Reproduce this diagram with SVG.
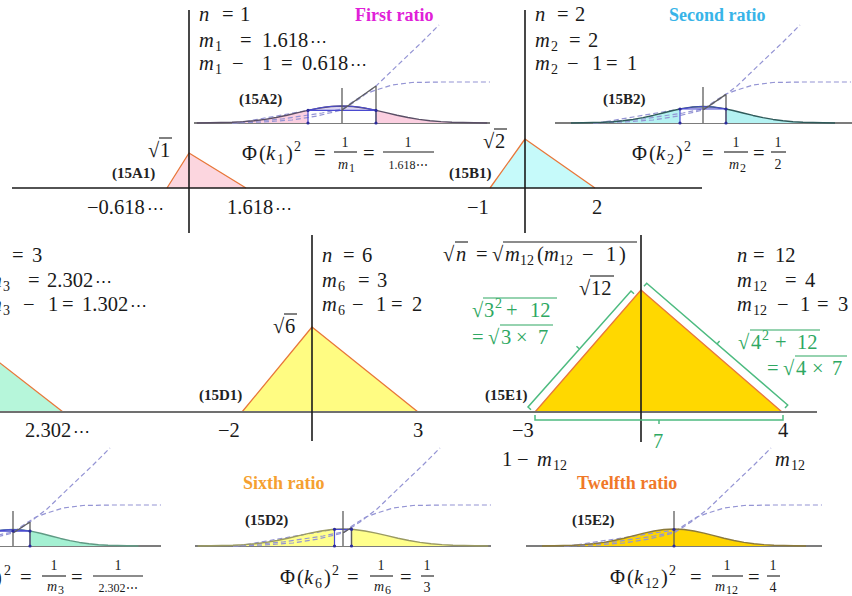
<svg xmlns="http://www.w3.org/2000/svg" width="852" height="596" viewBox="0 0 852 596">
<style>
.m{font-family:"Liberation Serif","DejaVu Serif",serif;font-size:20.5px;fill:#1a1a1a}
.i{font-style:italic}
.s{font-size:14px}
.fr{font-size:14px}
.sm{font-size:12px}
.el{font-size:17px}
.lb{font-family:"Liberation Serif","DejaVu Serif",serif;font-weight:bold;font-size:15px;fill:#222}
.tt{font-family:"Liberation Serif","DejaVu Serif",serif;font-weight:bold;font-size:18px}
.ax{stroke:#1a1a1a;stroke-width:1.6}
.ax2{stroke:#707070;stroke-width:2}
.ed{fill:none;stroke:#e8773a;stroke-width:1.3;stroke-linejoin:round}
.vb{stroke:#1a1a1a;stroke-width:1.1}
.bs{stroke:#7c7c7c;stroke-width:1.8}
.ds{fill:none;stroke:#9494d4;stroke-width:1.2;stroke-dasharray:5 3}
.cv{fill:none;stroke-width:1.4;stroke-linejoin:round}
.bl{fill:none;stroke:#4a4ad0;stroke-width:1.2}
.gy{fill:none;stroke:#5e5e5e;stroke-width:1.3}
.dt{fill:#2a2a9a}
.gt{fill:#2ea862}
.gb{fill:none;stroke:#4dbb80;stroke-width:1.5}
.gv{stroke:#2ea862;stroke-width:1.1}
</style>
<defs>
<path id="g" vector-effect="non-scaling-stroke" d="M-3.3,-0.004 L-3,-0.011 L-2.5,-0.044 L-2.25,-0.080 L-2,-0.135 L-1.75,-0.216 L-1.5,-0.325 L-1.25,-0.458 L-1,-0.607 L-0.75,-0.755 L-0.5,-0.883 L-0.25,-0.969 L0,-1 L0.25,-0.969 L0.5,-0.883 L0.75,-0.755 L1,-0.607 L1.25,-0.458 L1.5,-0.325 L1.75,-0.216 L2,-0.135 L2.25,-0.080 L2.5,-0.044 L3,-0.011 L3.3,-0.004"/>
<path id="gf" d="M-3.3,0 L-3.3,-0.004 L-3,-0.011 L-2.5,-0.044 L-2.25,-0.080 L-2,-0.135 L-1.75,-0.216 L-1.5,-0.325 L-1.25,-0.458 L-1,-0.607 L-0.75,-0.755 L-0.5,-0.883 L-0.25,-0.969 L0,-1 L0.25,-0.969 L0.5,-0.883 L0.75,-0.755 L1,-0.607 L1.25,-0.458 L1.5,-0.325 L1.75,-0.216 L2,-0.135 L2.25,-0.080 L2.5,-0.044 L3,-0.011 L3.3,-0.004 L3.3,0 Z"/>
<path id="dsp" d="M-110,0 L-80,-1 L-50,-3 L-25,-7 L0,-13 L17,-24 L34,-37 L60,-62 L80,-81 L97,-98"/>
<path id="dap" d="M-110,0 L-60,-4 L-20,-10 L0,-14 L12,-22 L23,-29 L34,-33 L50,-38 L70,-40.5 L100,-41 L148,-41"/>
</defs>
<rect width="852" height="596" fill="#fff"/>

<g id="triangles">
<polygon points="167,188 189,153 246,188" fill="#fcd6df"/>
<polyline points="167,188 189,153 246,188" class="ed"/>
<polygon points="490,188 525,139 595,188" fill="#c6fafa"/>
<polyline points="490,188 525,139 595,188" class="ed"/>
<polygon points="-30,412 -30,339.7 63,412" fill="#b6f6da"/>
<line x1="-30" y1="339.7" x2="63" y2="412" class="ed"/>
<polygon points="242,412 312,327 418,412" fill="#fffc82"/>
<polyline points="242,412 312,327 418,412" class="ed"/>
<polygon points="535,412 641,290 782,412" fill="#ffd800"/>
<polyline points="535,412 641,290 782,412" class="ed"/>
</g>

<g id="axes">
<line x1="12" y1="188" x2="702" y2="188" class="ax"/>
<line x1="189" y1="10" x2="189" y2="233" class="ax"/>
<line x1="525" y1="10" x2="525" y2="233" class="ax"/>
<line x1="0" y1="412" x2="817" y2="412" class="ax2"/>
<line x1="312" y1="235" x2="312" y2="441" class="ax"/>
<line x1="641" y1="235" x2="641" y2="442" class="ax"/>
</g>

<g id="panel-A">
<text class="m"><tspan class="i" x="199" y="21">n</tspan><tspan x="222" y="21">=</tspan><tspan x="240" y="21">1</tspan></text>
<text class="m"><tspan class="i" x="199" y="47">m</tspan><tspan class="s" x="215" y="51">1</tspan><tspan x="240" y="47">=</tspan><tspan x="262" y="47">1.618</tspan><tspan class="el" dx="2">⋯</tspan></text>
<text class="m"><tspan class="i" x="199" y="70">m</tspan><tspan class="s" x="215" y="74">1</tspan><tspan x="232" y="70">−</tspan><tspan x="262" y="70">1</tspan><tspan x="281" y="70">=</tspan><tspan x="302" y="70">0.618</tspan><tspan class="el" dx="2">⋯</tspan></text>
<text class="m"><tspan x="148" y="157">√</tspan><tspan x="160" y="157">1</tspan></text>
<line x1="159" y1="138" x2="172" y2="138" class="vb"/>
<text class="lb" x="112" y="178">(15A1)</text>
<text class="m" x="87" y="214">−0.618<tspan class="el" dx="2">⋯</tspan></text>
<text class="m" x="227" y="214">1.618<tspan class="el" dx="2">⋯</tspan></text>
<text class="tt" x="355" y="21" fill="#e020d8">First ratio</text>
<text class="lb" x="239" y="104">(15A2)</text>
<text class="m"><tspan x="242" y="160">Φ</tspan><tspan x="259" y="160">(</tspan><tspan class="i" x="266" y="160">k</tspan><tspan class="s" x="277" y="164">1</tspan><tspan x="286" y="160">)</tspan><tspan class="s" x="294" y="151">2</tspan><tspan x="314" y="160">=</tspan><tspan x="363" y="160">=</tspan></text>
<text class="m fr" x="345" y="147" text-anchor="middle">1</text>
<line x1="334" y1="152" x2="357" y2="152" class="vb"/>
<text class="m fr"><tspan class="i" x="338" y="169">m</tspan><tspan class="sm" x="349" y="172">1</tspan></text>
<text class="m fr" x="408" y="147" text-anchor="middle">1</text>
<line x1="383" y1="152" x2="434" y2="152" class="vb"/>
<text class="m sm" x="408" y="169" text-anchor="middle">1.618⋯</text>
</g>

<g id="panel-B">
<text class="m"><tspan class="i" x="535" y="21">n</tspan><tspan x="557" y="21">=</tspan><tspan x="575" y="21">2</tspan></text>
<text class="m"><tspan class="i" x="535" y="47">m</tspan><tspan class="s" x="551" y="51">2</tspan><tspan x="569" y="47">=</tspan><tspan x="588" y="47">2</tspan></text>
<text class="m"><tspan class="i" x="535" y="70">m</tspan><tspan class="s" x="551" y="74">2</tspan><tspan x="567" y="70">−</tspan><tspan x="592" y="70">1</tspan><tspan x="606" y="70">=</tspan><tspan x="627" y="70">1</tspan></text>
<text class="m"><tspan x="483" y="148">√</tspan><tspan x="495" y="148">2</tspan></text>
<line x1="494" y1="129" x2="507" y2="129" class="vb"/>
<text class="lb" x="449" y="178">(15B1)</text>
<text class="m" x="467" y="214">−1</text>
<text class="m" x="592" y="214">2</text>
<text class="tt" x="669" y="21" fill="#38b4e8">Second ratio</text>
<text class="lb" x="603" y="104">(15B2)</text>
<text class="m"><tspan x="632" y="160">Φ</tspan><tspan x="649" y="160">(</tspan><tspan class="i" x="656" y="160">k</tspan><tspan class="s" x="667" y="164">2</tspan><tspan x="676" y="160">)</tspan><tspan class="s" x="684" y="151">2</tspan><tspan x="702" y="160">=</tspan><tspan x="753" y="160">=</tspan></text>
<text class="m fr" x="736" y="147" text-anchor="middle">1</text>
<line x1="724" y1="152" x2="748" y2="152" class="vb"/>
<text class="m fr"><tspan class="i" x="729" y="169">m</tspan><tspan class="sm" x="740" y="172">2</tspan></text>
<text class="m fr" x="778" y="147" text-anchor="middle">1</text>
<line x1="771" y1="152" x2="786" y2="152" class="vb"/>
<text class="m fr" x="778" y="169" text-anchor="middle">2</text>
</g>

<g id="panel-C">
<text class="m"><tspan class="i" x="-11" y="262">n</tspan><tspan x="12" y="262">=</tspan><tspan x="32" y="262">3</tspan></text>
<text class="m"><tspan class="i" x="-13" y="287">m</tspan><tspan class="s" x="3" y="291">3</tspan><tspan x="28" y="287">=</tspan><tspan x="47" y="287">2.302</tspan><tspan class="el" dx="2">⋯</tspan></text>
<text class="m"><tspan class="i" x="-13" y="311">m</tspan><tspan class="s" x="3" y="315">3</tspan><tspan x="23" y="311">−</tspan><tspan x="48" y="311">1</tspan><tspan x="62" y="311">=</tspan><tspan x="82" y="311">1.302</tspan><tspan class="el" dx="2">⋯</tspan></text>
<text class="m" x="25" y="437">2.302<tspan class="el" dx="2">⋯</tspan></text>
<text class="m"><tspan x="-50" y="584">Φ</tspan><tspan x="-33" y="584">(</tspan><tspan class="i" x="-26" y="584">k</tspan><tspan class="s" x="-15" y="588">3</tspan><tspan x="-5" y="584">)</tspan><tspan class="s" x="4" y="575">2</tspan><tspan x="20" y="584">=</tspan><tspan x="71" y="584">=</tspan></text>
<text class="m fr" x="54" y="570" text-anchor="middle">1</text>
<line x1="42" y1="576" x2="66" y2="576" class="vb"/>
<text class="m fr"><tspan class="i" x="47" y="591">m</tspan><tspan class="sm" x="58" y="594">3</tspan></text>
<text class="m fr" x="118" y="570" text-anchor="middle">1</text>
<line x1="93" y1="576" x2="143" y2="576" class="vb"/>
<text class="m sm" x="118" y="592" text-anchor="middle">2.302⋯</text>
</g>

<g id="panel-D">
<text class="m"><tspan class="i" x="322" y="262">n</tspan><tspan x="343" y="262">=</tspan><tspan x="362" y="262">6</tspan></text>
<text class="m"><tspan class="i" x="322" y="287">m</tspan><tspan class="s" x="338" y="291">6</tspan><tspan x="358" y="287">=</tspan><tspan x="377" y="287">3</tspan></text>
<text class="m"><tspan class="i" x="322" y="311">m</tspan><tspan class="s" x="338" y="315">6</tspan><tspan x="352" y="311">−</tspan><tspan x="376" y="311">1</tspan><tspan x="391" y="311">=</tspan><tspan x="412" y="311">2</tspan></text>
<text class="m"><tspan x="273" y="333">√</tspan><tspan x="285" y="333">6</tspan></text>
<line x1="284" y1="314" x2="297" y2="314" class="vb"/>
<text class="lb" x="199" y="400">(15D1)</text>
<text class="m" x="218" y="437">−2</text>
<text class="m" x="413" y="437">3</text>
<text class="tt" x="243" y="489" fill="#f5a030">Sixth ratio</text>
<text class="lb" x="245" y="525">(15D2)</text>
<text class="m"><tspan x="280" y="584">Φ</tspan><tspan x="297" y="584">(</tspan><tspan class="i" x="304" y="584">k</tspan><tspan class="s" x="315" y="588">6</tspan><tspan x="324" y="584">)</tspan><tspan class="s" x="332" y="575">2</tspan><tspan x="347" y="584">=</tspan><tspan x="400" y="584">=</tspan></text>
<text class="m fr" x="381" y="570" text-anchor="middle">1</text>
<line x1="370" y1="576" x2="393" y2="576" class="vb"/>
<text class="m fr"><tspan class="i" x="374" y="591">m</tspan><tspan class="sm" x="385" y="594">6</tspan></text>
<text class="m fr" x="427" y="570" text-anchor="middle">1</text>
<line x1="421" y1="576" x2="434" y2="576" class="vb"/>
<text class="m fr" x="427" y="592" text-anchor="middle">3</text>
</g>

<g id="panel-E">
<text class="m"><tspan x="443" y="261">√</tspan><tspan class="i" x="456" y="261">n</tspan><tspan x="476" y="261">=</tspan><tspan x="492" y="261">√</tspan><tspan class="i" x="505" y="261">m</tspan><tspan class="s" x="520" y="265">12</tspan><tspan x="537" y="261">(</tspan><tspan class="i" x="544" y="261">m</tspan><tspan class="s" x="559" y="265">12</tspan><tspan x="582" y="261">−</tspan><tspan x="606" y="261">1</tspan><tspan x="619" y="261">)</tspan></text>
<line x1="455" y1="242" x2="468" y2="242" class="vb"/>
<line x1="503" y1="242" x2="637" y2="242" class="vb"/>
<text class="m"><tspan x="579" y="295">√</tspan><tspan x="591" y="295">12</tspan></text>
<line x1="590" y1="276" x2="614" y2="276" class="vb"/>
<text class="m"><tspan class="i" x="737" y="262">n</tspan><tspan x="753" y="262">=</tspan><tspan x="775" y="262">12</tspan></text>
<text class="m"><tspan class="i" x="737" y="287">m</tspan><tspan class="s" x="753" y="291">12</tspan><tspan x="785" y="287">=</tspan><tspan x="805" y="287">4</tspan></text>
<text class="m"><tspan class="i" x="737" y="311">m</tspan><tspan class="s" x="753" y="315">12</tspan><tspan x="777" y="311">−</tspan><tspan x="800" y="311">1</tspan><tspan x="817" y="311">=</tspan><tspan x="838" y="311">3</tspan></text>
<text class="m gt"><tspan x="472" y="317">√</tspan><tspan x="484" y="317">3</tspan><tspan class="s" x="495" y="308">2</tspan><tspan x="506" y="317">+</tspan><tspan x="530" y="317">12</tspan></text>
<line x1="483" y1="298" x2="557" y2="298" class="gv"/>
<text class="m gt"><tspan x="472" y="344">=</tspan><tspan x="488" y="344">√</tspan><tspan x="501" y="344">3</tspan><tspan x="516" y="344">×</tspan><tspan x="538" y="344">7</tspan></text>
<line x1="500" y1="325" x2="553" y2="325" class="gv"/>
<text class="m gt"><tspan x="738" y="349">√</tspan><tspan x="751" y="349">4</tspan><tspan class="s" x="762" y="340">2</tspan><tspan x="775" y="349">+</tspan><tspan x="797" y="349">12</tspan></text>
<line x1="750" y1="330" x2="820" y2="330" class="gv"/>
<text class="m gt"><tspan x="767" y="375">=</tspan><tspan x="783" y="375">√</tspan><tspan x="796" y="375">4</tspan><tspan x="812" y="375">×</tspan><tspan x="832" y="375">7</tspan></text>
<line x1="795" y1="356" x2="847" y2="356" class="gv"/>
<path class="gb" d="M531,409.7 L528,407 L631,291 L634,293.7 M579.5,349 L576.5,346.3"/>
<path class="gb" d="M644,286.3 L646.7,283.3 L787.7,405 L785,408 M717,344 L719.6,341"/>
<path class="gb" d="M535,415 L535,420 L783,420 L783,415 M659,420 L659,424"/>
<text class="m gt" x="653" y="448">7</text>
<text class="lb" x="485" y="400">(15E1)</text>
<text class="m" x="512" y="437">−3</text>
<text class="m" x="778" y="437">4</text>
<text class="m"><tspan x="502" y="466">1</tspan><tspan x="517" y="466">−</tspan><tspan class="i" x="537" y="466">m</tspan><tspan class="s" x="553" y="470">12</tspan></text>
<text class="m"><tspan class="i" x="775" y="466">m</tspan><tspan class="s" x="791" y="470">12</tspan></text>
<text class="tt" x="577" y="489" fill="#f07828">Twelfth ratio</text>
<text class="lb" x="572" y="525">(15E2)</text>
<text class="m"><tspan x="610" y="584">Φ</tspan><tspan x="627" y="584">(</tspan><tspan class="i" x="634" y="584">k</tspan><tspan class="s" x="645" y="588">12</tspan><tspan x="661" y="584">)</tspan><tspan class="s" x="669" y="575">2</tspan><tspan x="690" y="584">=</tspan><tspan x="748" y="584">=</tspan></text>
<text class="m fr" x="727" y="570" text-anchor="middle">1</text>
<line x1="712" y1="576" x2="743" y2="576" class="vb"/>
<text class="m fr"><tspan class="i" x="715" y="591">m</tspan><tspan class="sm" x="726" y="594">12</tspan></text>
<text class="m fr" x="773" y="570" text-anchor="middle">1</text>
<line x1="767" y1="576" x2="780" y2="576" class="vb"/>
<text class="m fr" x="773" y="592" text-anchor="middle">4</text>
</g>

<g id="plot-A2">
<line x1="194" y1="123" x2="490" y2="123" class="bs"/>
<use href="#gf" transform="translate(342,123) scale(44,17)" fill="#fbcfe0"/>
<rect x="308" y="110.4" width="68" height="12.6" fill="#fff"/>
<path d="M308,110.4 Q342,101.6 376,110.4 Z" fill="#ddd6f2"/>
<use href="#dsp" transform="translate(342,123)" class="ds"/>
<use href="#dap" transform="translate(342,123)" class="ds"/>
<line x1="237" y1="123" x2="308" y2="110.4" class="ds"/>
<use href="#g" transform="translate(342,123) scale(44,17)" class="cv" stroke="#5a4f66"/>
<path d="M308,110.4 Q342,101.6 376,110.4 M308,110.4 V123 M376,110.4 V123 M308,110.4 H376" class="bl"/>
<path d="M342,88 V123 M376,86 V123 M342,110 L376,86" class="gy"/>
<circle cx="308" cy="110.4" r="1.6" class="dt"/><circle cx="376" cy="110.4" r="1.6" class="dt"/><circle cx="308" cy="123" r="1.6" class="dt"/><circle cx="376" cy="123" r="1.6" class="dt"/>
</g>

<g id="plot-B2">
<line x1="555" y1="123" x2="852" y2="123" class="bs"/>
<use href="#gf" transform="translate(703,123) scale(40,16.5)" fill="#b4f2f2"/>
<rect x="680" y="109" width="46" height="14" fill="#fff"/>
<path d="M680,109 Q703,104 726,109 Z" fill="#ddd6f2"/>
<use href="#dsp" transform="translate(703,123)" class="ds"/>
<use href="#dap" transform="translate(703,123)" class="ds"/>
<line x1="598" y1="123" x2="680" y2="109" class="ds"/>
<use href="#g" transform="translate(703,123) scale(40,16.5)" class="cv" stroke="#2f5a5a"/>
<path d="M680,109 Q703,104 726,109 M680,109 V123 M726,109 V123 M680,109 H726" class="bl"/>
<path d="M703,87 V123 M726,94.4 V123 M703,110 L726,94.4" class="gy"/>
<circle cx="680" cy="109" r="1.6" class="dt"/><circle cx="726" cy="109" r="1.6" class="dt"/><circle cx="680" cy="123" r="1.6" class="dt"/><circle cx="726" cy="123" r="1.6" class="dt"/>
</g>

<g id="plot-C2">
<line x1="0" y1="546" x2="161" y2="546" class="bs"/>
<use href="#gf" transform="translate(13,546) scale(38,16.5)" fill="#a4f0d2"/>
<rect x="-4" y="531.1" width="34" height="14.9" fill="#fff"/>
<path d="M-4,531.1 Q13,527.9 30,531.1 Z" fill="#ddd6f2"/>
<use href="#dsp" transform="translate(13,546)" class="ds"/>
<use href="#dap" transform="translate(13,546)" class="ds"/>
<use href="#g" transform="translate(13,546) scale(38,16.5)" class="cv" stroke="#5f9a84"/>
<path d="M-4,531.1 Q13,527.9 30,531.1 M30,531.1 V546 M-4,531.1 H30" class="bl"/>
<path d="M13,511 V546 M30,522 V546 M13,533 L30,522" class="gy"/>
<circle cx="13" cy="531" r="1.6" class="dt"/><circle cx="30" cy="531.1" r="1.6" class="dt"/><circle cx="30" cy="546" r="1.6" class="dt"/>
</g>

<g id="plot-D2">
<line x1="195" y1="546" x2="491" y2="546" class="bs"/>
<use href="#gf" transform="translate(343,546) scale(44,17)" fill="#ffff8c"/>
<rect x="334.5" y="529.3" width="17" height="16.7" fill="#fff"/>
<use href="#dsp" transform="translate(343,546)" class="ds"/>
<use href="#dap" transform="translate(343,546)" class="ds"/>
<line x1="238" y1="546" x2="334.5" y2="529.3" class="ds"/>
<use href="#g" transform="translate(343,546) scale(44,17)" class="cv" stroke="#9a9a62"/>
<path d="M334.5,529.3 H351.5 M334.5,529.3 V546 M351.5,529.3 V546" class="bl"/>
<path d="M343,511 V546 M351.5,527.5 V546 M343,533 L351.5,527.5" class="gy"/>
<circle cx="334.5" cy="529.3" r="1.6" class="dt"/><circle cx="351.5" cy="529.3" r="1.6" class="dt"/><circle cx="334.5" cy="546" r="1.6" class="dt"/><circle cx="351.5" cy="546" r="1.6" class="dt"/>
</g>

<g id="plot-E2">
<line x1="526" y1="546" x2="822" y2="546" class="bs"/>
<use href="#gf" transform="translate(674,546) scale(40,17)" fill="#ffd500"/>
<use href="#dsp" transform="translate(674,546)" class="ds"/>
<use href="#dap" transform="translate(674,546)" class="ds"/>
<line x1="569" y1="546" x2="674" y2="530" class="ds"/>
<use href="#g" transform="translate(674,546) scale(40,17)" class="cv" stroke="#8c7a3a"/>
<path d="M674,511 V546" class="gy"/>
<circle cx="674" cy="529.5" r="1.6" class="dt"/><circle cx="674" cy="546" r="1.6" class="dt"/>
</g>
</svg>
